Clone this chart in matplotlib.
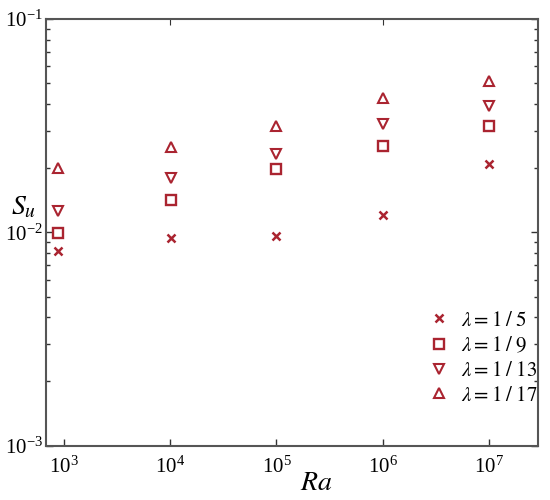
import matplotlib
matplotlib.use("Agg")
import matplotlib.pyplot as plt
from matplotlib.ticker import LogLocator, NullLocator, FixedLocator, NullFormatter

plt.rcParams['font.family'] = ['Liberation Serif', 'DejaVu Serif']
plt.rcParams['mathtext.fontset'] = 'stix'

Ra = [870, 1.01e4, 1.0e5, 1.0e6, 1.0e7]
Su_5 = [0.00816, 0.0094, 0.0096, 0.0120, 0.0210]
Su_9 = [0.00995, 0.01416, 0.0198, 0.0254, 0.0315]
Su_13 = [0.01253, 0.01807, 0.0232, 0.0321, 0.0390]
Su_17 = [0.0201, 0.0252, 0.0315, 0.0428, 0.0514]
labels = [r'$\lambda = 1\;/\;5$', r'$\lambda = 1\;/\;9$',
          r'$\lambda = 1\;/\;13$', r'$\lambda = 1\;/\;17$']
xticks = [1e3, 1e4, 1e5, 1e6, 1e7]

red = '#aa2430'
fig = plt.figure(figsize=(5.5, 5.0), dpi=100)
ax = fig.add_axes([0.0836, 0.1086, 0.8946, 0.8534])
ax.set_xscale('log')
ax.set_yscale('log')
ax.set_xlim(10**2.831, 10**7.461)
ax.set_ylim(1e-3, 1e-1)

h1, = ax.plot(Ra, Su_5, linestyle='none', marker='x', ms=6, mew=1.8, color=red)
h2, = ax.plot(Ra, Su_9, linestyle='none', marker='s', ms=6.5, mew=1.7, mfc='none', mec=red)
h3, = ax.plot(Ra, Su_13, linestyle='none', marker='v', ms=7.5, mew=1.5, mfc='none', mec=red)
h4, = ax.plot(Ra, Su_17, linestyle='none', marker='^', ms=7.5, mew=1.5, mfc='none', mec=red)

ax.set_xticks(xticks)
ax.xaxis.set_minor_locator(NullLocator())
ax.yaxis.set_major_locator(LogLocator(base=10, numticks=10))
ax.yaxis.set_minor_locator(LogLocator(base=10, subs=range(2, 10), numticks=20))
ax.yaxis.set_minor_formatter(NullFormatter())
ax.tick_params(which='both', direction='in', left=True, right=True, top=False,
               labelsize=15, colors='#333333', width=1.0)
ax.tick_params(which='major', length=5)
ax.tick_params(which='minor', length=3)
ax.tick_params(axis='x', pad=8)
ax.tick_params(axis='y', pad=2)
for lab in ax.get_xticklabels() + ax.get_yticklabels():
    lab.set_color('black')

sec = ax.secondary_xaxis('top')
sec.xaxis.set_major_locator(FixedLocator([1e4, 1e6]))
sec.xaxis.set_minor_locator(NullLocator())
sec.tick_params(direction='in', length=4, labeltop=False, colors='#333333')
sec.spines['top'].set_visible(False)

for s in ax.spines.values():
    s.set_color('#555555')
    s.set_linewidth(1.5)

ax.legend([h1, h2, h3, h4], labels, loc='upper left', bbox_to_anchor=(0.75, 0.335),
          frameon=False, fontsize=15, handletextpad=0.3, labelspacing=0.25,
          handlelength=1.5, borderaxespad=0)

fig.text(0.575, 0.032, r'$Ra$', fontsize=20, ha='center', va='center')
fig.text(0.042, 0.585, r'$S_u$', fontsize=20, ha='center', va='center')

fig.savefig('out.png', dpi=100)
